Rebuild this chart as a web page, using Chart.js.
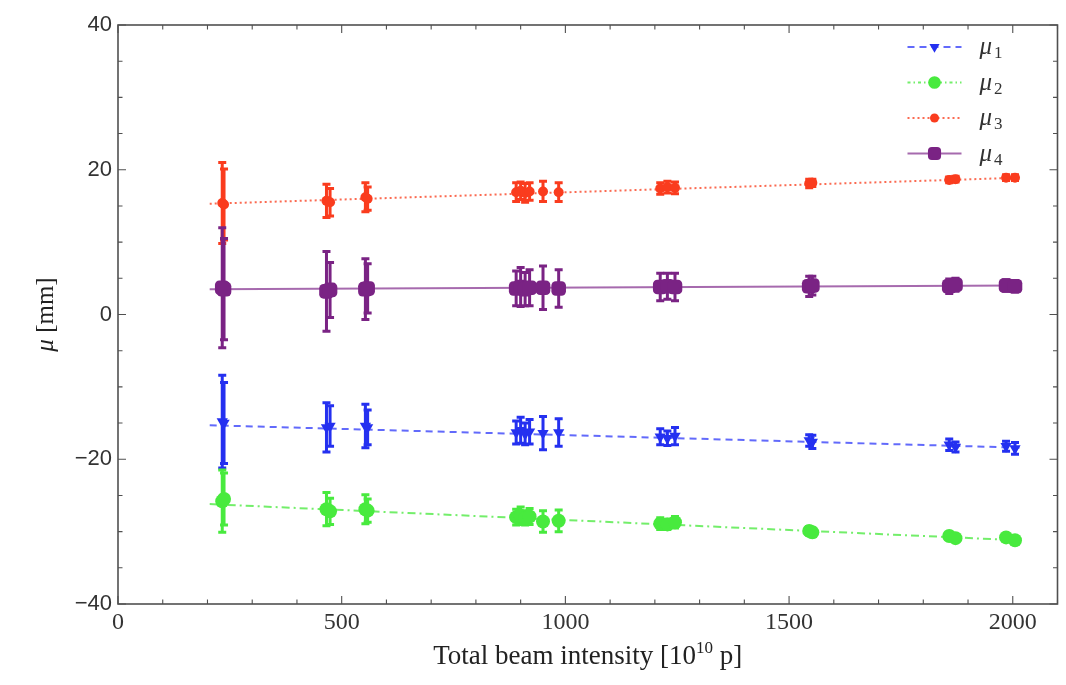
<!DOCTYPE html>
<html><head><meta charset="utf-8">
<script src="https://cdn.jsdelivr.net/npm/chart.js@4.4.0/dist/chart.umd.min.js"></script>
<style>html,body{margin:0;padding:0;background:#fff;}</style>
</head><body>
<canvas id="c" width="1066" height="685"></canvas>
<script>
// ---------- data ----------
const intensity = [233, 237, 466, 474, 553, 558, 890, 900, 910, 920, 950, 985, 1212, 1228, 1245, 1545, 1552, 1858, 1872, 1985, 2005];

const mu1    = [-14.8, -15.0, -15.6, -15.4, -15.4, -15.6, -16.3, -16.0, -16.5, -16.2, -16.4, -16.3, -16.9, -17.1, -16.8, -17.4, -17.6, -18.0, -18.3, -18.2, -18.5];
const mu1Err = [6.4, 5.6, 3.4, 2.8, 3.0, 2.4, 1.6, 1.8, 1.5, 1.7, 2.3, 1.9, 1.1, 1.0, 1.2, 0.8, 0.9, 0.8, 0.7, 0.7, 0.8];

const mu2    = [-25.8, -25.5, -26.9, -27.2, -26.9, -27.1, -28.0, -27.8, -28.1, -27.9, -28.6, -28.5, -28.9, -29.0, -28.7, -29.9, -30.1, -30.6, -30.9, -30.8, -31.2];
const mu2Err = [4.3, 3.6, 2.3, 1.8, 2.0, 1.6, 1.1, 1.2, 1.0, 1.1, 1.5, 1.5, 0.8, 0.7, 0.8, 0.6, 0.6, 0.5, 0.5, 0.5, 0.5];

const mu3    = [15.4, 15.2, 15.7, 15.5, 16.2, 16.0, 16.9, 17.1, 16.8, 17.0, 17.0, 16.9, 17.4, 17.6, 17.5, 18.1, 18.2, 18.6, 18.7, 18.9, 18.9];
const mu3Err = [5.6, 4.9, 2.3, 1.9, 2.0, 1.6, 1.3, 1.2, 1.3, 1.2, 1.4, 1.3, 0.8, 0.8, 0.8, 0.6, 0.5, 0.4, 0.4, 0.4, 0.4];

const mu4    = [3.7, 3.5, 3.2, 3.4, 3.5, 3.6, 3.6, 3.8, 3.5, 3.7, 3.7, 3.6, 3.8, 3.9, 3.8, 3.9, 4.0, 3.9, 4.1, 4.0, 3.9];
const mu4Err = [8.3, 7.0, 5.5, 3.8, 4.2, 3.4, 2.4, 2.7, 2.3, 2.5, 3.0, 2.6, 1.9, 1.8, 1.9, 1.4, 1.3, 1.0, 0.9, 0.8, 0.8];

// straight-line fits (end points)
const fitX   = [205, 2015];
const mu1Fit = [-15.3, -18.4];
const mu2Fit = [-26.2, -31.2];
const mu3Fit = [15.3, 18.9];
const mu4Fit = [3.5, 4.0];

const xTicks = [0, 500, 1000, 1500, 2000];
const xTickLabels = ['0', '500', '1000', '1500', '2000'];
const yTicks = [-40, -20, 0, 20, 40];
const yTickLabels = ['\u221240', '\u221220', '0', '20', '40'];
const seriesSubs = ['1', '2', '3', '4'];

// ---------- styles ----------
const COL = {
  blue:   '#2430f0', blueFit:   'rgba(70,80,250,0.85)',
  green:  '#48ea3e', greenFit:  'rgba(90,235,80,0.85)',
  red:    '#fa3c1e', redFit:    'rgba(250,80,50,0.85)',
  purple: '#7a2384', purpleFit: 'rgba(150,80,160,0.85)'
};
const SERIF = '"Liberation Serif", "Times New Roman", serif';
const SANS = '"Liberation Sans", Arial, sans-serif';

const pts = (xs, ys) => xs.map((x, i) => ({x, y: ys[i]}));

function pointSet(label, ys, errs, color, style, radius, rotation) {
  return { type: 'scatter', label, data: pts(intensity, ys), errors: errs,
    backgroundColor: color, borderColor: color, pointStyle: style,
    pointRadius: radius, pointRotation: rotation || 0, pointBorderWidth: 0,
    showLine: false, order: 1 };
}
function fitSet(ys, color, dash, width) {
  return { type: 'line', label: 'fit', data: pts(fitX, ys), borderColor: color,
    borderWidth: width, borderDash: dash, pointRadius: 0, fill: false, order: 5 };
}

const datasets = [
  pointSet('\u03bc1', mu1, mu1Err, COL.blue, 'triangle', 6.5, 180),
  pointSet('\u03bc2', mu2, mu2Err, COL.green, 'circle', 7),
  pointSet('\u03bc3', mu3, mu3Err, COL.red, 'circle', 5),
  pointSet('\u03bc4', mu4, mu4Err, COL.purple, 'rectRounded', 8.5),
  fitSet(mu1Fit, COL.blueFit, [7, 5], 2),
  fitSet(mu2Fit, COL.greenFit, [8, 4, 2, 4], 2),
  fitSet(mu3Fit, COL.redFit, [2, 3], 2),
  fitSet(mu4Fit, COL.purpleFit, [], 2)
];
const legendDefs = [
  {ds: 0, line: COL.blueFit,   dash: [7, 5]},
  {ds: 1, line: COL.greenFit,  dash: [3, 3, 1.5, 3]},
  {ds: 2, line: COL.redFit,    dash: [2, 3]},
  {ds: 3, line: COL.purpleFit, dash: []}
];

// ---------- plugins ----------
const errorBars = {
  id: 'errorBars',
  beforeDatasetsDraw(chart) {
    const {ctx, scales: {x, y}} = chart;
    ctx.save();
    chart.data.datasets.forEach((ds) => {
      if (!ds.errors) return;
      ctx.strokeStyle = ds.borderColor;
      ctx.lineWidth = 3;
      ds.data.forEach((p, i) => {
        const e = ds.errors[i];
        const px = x.getPixelForValue(p.x);
        const t = y.getPixelForValue(p.y + e), b = y.getPixelForValue(p.y - e);
        ctx.beginPath();
        ctx.moveTo(px, t); ctx.lineTo(px, b);
        ctx.moveTo(px - 4, t); ctx.lineTo(px + 4, t);
        ctx.moveTo(px - 4, b); ctx.lineTo(px + 4, b);
        ctx.stroke();
      });
    });
    ctx.restore();
  }
};

const frame = {
  id: 'frame',
  afterDraw(chart) {
    const {ctx, chartArea: a, scales: {x, y}} = chart;
    ctx.save();
    ctx.strokeStyle = '#505050';
    ctx.lineWidth = 1.6;
    ctx.strokeRect(a.left, a.top, a.right - a.left, a.bottom - a.top);
    ctx.lineWidth = 1.1;
    ctx.beginPath();
    for (let v = 0; v <= x.max + 1e-6; v += 100) {
      const px = x.getPixelForValue(v), L = (v % 500 === 0) ? 8 : 4.5;
      ctx.moveTo(px, a.bottom); ctx.lineTo(px, a.bottom - L);
      ctx.moveTo(px, a.top); ctx.lineTo(px, a.top + L);
    }
    for (let v = y.min; v <= y.max + 1e-6; v += 5) {
      const py = y.getPixelForValue(v), L = (v % 20 === 0) ? 8 : 4.5;
      ctx.moveTo(a.left, py); ctx.lineTo(a.left + L, py);
      ctx.moveTo(a.right, py); ctx.lineTo(a.right - L, py);
    }
    ctx.stroke();

    // axis titles
    ctx.fillStyle = '#222';
    ctx.textBaseline = 'alphabetic';
    const big = '27px ' + SERIF, small = '17px ' + SERIF;
    const parts = [['Total beam intensity [10', big, 0], ['10', small, -11], [' p]', big, 0]];
    let w = 0;
    parts.forEach(p => { ctx.font = p[1]; w += ctx.measureText(p[0]).width; });
    let cx = (a.left + a.right) / 2 - w / 2;
    const by = 664;
    parts.forEach(p => { ctx.font = p[1]; ctx.fillText(p[0], cx, by + p[2]); cx += ctx.measureText(p[0]).width; });

    ctx.save();
    ctx.translate(53, (a.top + a.bottom) / 2);
    ctx.rotate(-Math.PI / 2);
    const yparts = [['\u03bc', 'italic 25px ' + SERIF], [' [mm]', '25px ' + SERIF]];
    w = 0;
    yparts.forEach(p => { ctx.font = p[1]; w += ctx.measureText(p[0]).width; });
    cx = -w / 2;
    yparts.forEach(p => { ctx.font = p[1]; ctx.fillText(p[0], cx, 0); cx += ctx.measureText(p[0]).width; });
    ctx.restore();

    // legend
    const lx0 = a.right - 150, lx1 = a.right - 96, mx = a.right - 123, tx = a.right - 78;
    legendDefs.forEach((d, k) => {
      const ly = a.top + 22 + k * 35.5;
      const ds = chart.data.datasets[d.ds];
      ctx.strokeStyle = d.line; ctx.lineWidth = 2; ctx.setLineDash(d.dash);
      ctx.beginPath(); ctx.moveTo(lx0, ly); ctx.lineTo(lx1, ly); ctx.stroke();
      ctx.setLineDash([]);
      ctx.fillStyle = ds.backgroundColor;
      Chart.helpers.drawPoint(ctx, {pointStyle: ds.pointStyle, radius: ds.pointRadius * 0.9, rotation: ds.pointRotation, borderWidth: 0}, mx, ly);
      ctx.fillStyle = '#333';
      ctx.font = 'italic 25px ' + SERIF;
      ctx.fillText('\u03bc', tx, ly + 7);
      const mw = ctx.measureText('\u03bc').width;
      ctx.font = '17px ' + SERIF;
      ctx.fillText(seriesSubs[k], tx + mw + 2, ly + 11);
    });
    ctx.restore();
  }
};

new Chart(document.getElementById('c'), {
  data: { datasets },
  options: {
    responsive: false,
    animation: false,
    devicePixelRatio: 1,
    layout: { padding: { left: 0, right: 3, top: 25, bottom: 0 } },
    plugins: { legend: { display: false }, tooltip: { enabled: false }, title: { display: false } },
    scales: {
      x: {
        type: 'linear', min: 0, max: 2100,
        afterBuildTicks: s => { s.ticks = xTicks.map(v => ({value: v})); },
        afterFit: s => { s.height = 81; s.paddingLeft = 0; s.paddingRight = 0; },
        ticks: { callback: (v) => xTickLabels[xTicks.indexOf(v)], font: {family: SERIF, size: 24}, color: '#333', padding: 4, maxRotation: 0, autoSkip: false },
        grid: { display: false, drawTicks: false },
        border: { display: false }
      },
      y: {
        type: 'linear', min: -40, max: 40,
        afterBuildTicks: s => { s.ticks = yTicks.map(v => ({value: v})); },
        afterFit: s => { s.width = 118; s.paddingTop = 0; s.paddingBottom = 0; },
        ticks: { callback: (v) => yTickLabels[yTicks.indexOf(v)], font: {family: SANS, size: 22}, color: '#333', padding: 6, autoSkip: false },
        grid: { display: false, drawTicks: false },
        border: { display: false }
      }
    }
  },
  plugins: [errorBars, frame]
});
</script>
</body></html>
